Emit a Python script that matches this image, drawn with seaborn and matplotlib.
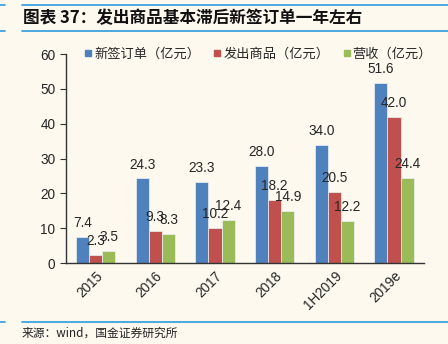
import matplotlib
matplotlib.use("Agg")
import matplotlib.pyplot as plt
import seaborn as sns
import pandas as pd
from matplotlib.lines import Line2D

categories = ["2015", "2016", "2017", "2018", "1H2019", "2019e"]
series_names = ["新签订单（亿元）", "发出商品（亿元）", "营收（亿元）"]
new_orders = [7.4, 24.3, 23.3, 28.0, 34.0, 51.6]
shipped_goods = [2.3, 9.3, 10.2, 18.2, 20.5, 42.0]
revenue = [3.5, 8.3, 12.4, 14.9, 12.2, 24.4]
colors = ["#4F81BD", "#C0504D", "#9BBB59"]

rows = []
for name, vals in zip(series_names, [new_orders, shipped_goods, revenue]):
    for c, v in zip(categories, vals):
        rows.append({"cat": c, "val": v, "series": name})
df = pd.DataFrame(rows)

sns.set_style("white")
plt.rcParams['font.family'] = ['Noto Sans CJK SC', 'DejaVu Sans']
bg = "#FDF9EF"
fig = plt.figure(figsize=(4.48, 3.44), dpi=100, facecolor=bg)
ax = fig.add_axes([0.147, 0.235, 0.799, 0.608], facecolor=bg)

sns.barplot(data=df, x="cat", y="val", hue="series", palette=colors,
            width=0.66, ax=ax, saturation=1, legend=False,
            edgecolor="#EEF2F6", linewidth=0.5)

for cont in ax.containers:
    ax.bar_label(cont, fmt="%.1f", fontsize=9.8, padding=5,
                 family=['Liberation Sans', 'DejaVu Sans'])

ax.set_ylim(0, 60)
ax.set_yticks(range(0, 61, 10))
ax.set_xlim(-0.5, len(categories) - 0.5)
ax.set_xlabel("")
ax.set_ylabel("")
for s in ["top", "right"]:
    ax.spines[s].set_visible(False)
for s in ["left", "bottom"]:
    ax.spines[s].set_color("#333333")
    ax.spines[s].set_linewidth(1)

ax.set_xticks([i for i in range(len(categories))])
ax.set_xticklabels(categories, rotation=45, ha="right", rotation_mode="anchor",
                   fontsize=9.8, family=['Liberation Sans', 'DejaVu Sans'])
ax.tick_params(axis="x", length=0, pad=4)
ax.set_xticks([i - 0.5 for i in range(len(categories) + 1)], minor=True)
ax.tick_params(axis="x", which="minor", length=4, direction="out", color="#333333")
ax.tick_params(axis="y", length=4, direction="out", color="#333333", labelsize=9.8)
for lbl in ax.get_yticklabels():
    lbl.set_family(['Liberation Sans', 'DejaVu Sans'])
ax.yaxis.set_ticks_position("left")

handles = [Line2D([0], [0], marker="s", linestyle="", color=c, markersize=5) for c in colors]
ax.legend(handles, series_names, loc="upper left", bbox_to_anchor=(0.015, 1.085),
          ncol=3, frameon=False, fontsize=9.5, handletextpad=0.05, columnspacing=0.9,
          handlelength=0.8)

# decorative lines
line_color = "#2E9BDC"
for yy in (5, 31, 322):
    fig.add_artist(Line2D([22/448, 1.0], [1 - yy/344] * 2, color=line_color, lw=1.2))
    fig.add_artist(Line2D([0, 5/448], [1 - yy/344] * 2, color=line_color, lw=1.2))

fig.text(23/448, 1 - 18/344, "图表 37：发出商品基本滞后新签订单一年左右", fontsize=12,
         fontweight="bold", style="italic", va="center", ha="left", color="#111111")
fig.text(22/448, 1 - 333/344, "来源：wind，国金证券研究所", fontsize=8.5,
         va="center", ha="left", color="#222222")

fig.savefig("out.png", dpi=100, facecolor=bg)
